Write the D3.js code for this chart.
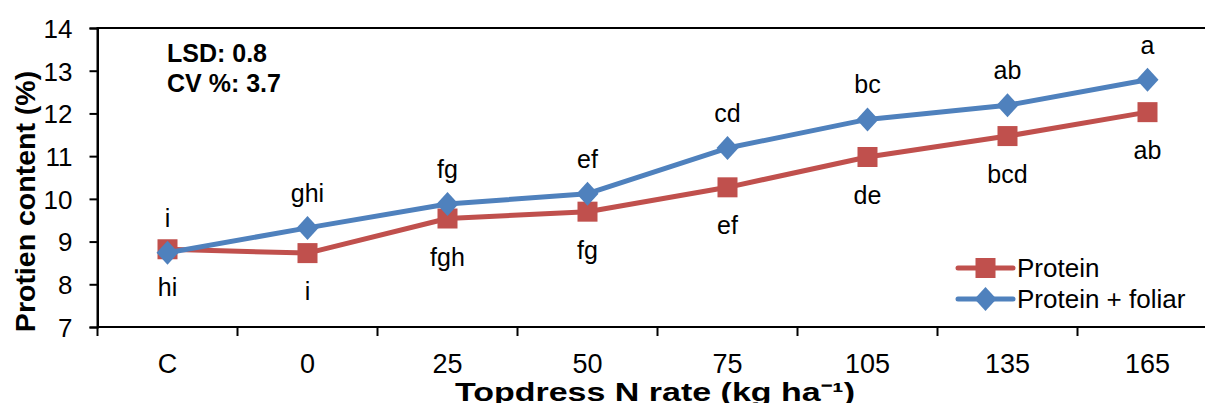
<!DOCTYPE html>
<html><head><meta charset="utf-8">
<script src="https://cdn.jsdelivr.net/npm/d3@7"></script>
<style>
html,body{margin:0;padding:0;background:#fff;}
svg{display:block;font-family:"Liberation Sans",Arial,sans-serif;}
</style></head>
<body>
<svg id="chart" width="1205" height="403"></svg>
<script>
const categories = ["C","0","25","50","75","105","135","165"];
const protein = [8.82,8.73,9.54,9.70,10.27,10.98,11.47,12.03];
const foliar = [8.74,9.32,9.88,10.12,11.19,11.86,12.19,12.79];
const proteinLetters = ["hi","i","fgh","fg","ef","de","bcd","ab"];
const foliarLetters = ["i","ghi","fg","ef","cd","bc","ab","a"];
const yTicks = [7,8,9,10,11,12,13,14];
const seriesNames = ["Protein","Protein + foliar"];
const statLines = ["LSD: 0.8","CV %: 3.7"];

const svg = d3.select("#chart");
const L = 97.5, T = 28, B = 327, R = 1217.5;
const x = d3.scaleBand().domain(categories).range([L,R]).padding(0);
const y = d3.scaleLinear().domain([7,14]).range([B,T]);
const red = "#C0504D", blue = "#4F81BD";

// plot frame
svg.append("rect").attr("x",L).attr("y",T).attr("width",R-L).attr("height",B-T)
  .attr("fill","none").attr("stroke","#000").attr("stroke-width",2);

// y axis
const ya = svg.append("g").attr("transform",`translate(${L},0)`)
  .call(d3.axisLeft(y).tickValues(yTicks).tickSize(8).tickPadding(17).tickFormat(d3.format("d")));
ya.select(".domain").attr("stroke","#000").attr("stroke-width",2);
ya.selectAll(".tick line").attr("stroke","#000").attr("stroke-width",2);
ya.selectAll(".tick text").attr("font-size",26).attr("fill","#000")
  .attr("font-family","Liberation Sans, Arial, sans-serif").attr("dy","0.36em");

// x axis: ticks at band boundaries
const xa = svg.append("g").attr("transform",`translate(0,${B})`);
xa.append("line").attr("x1",L).attr("x2",R).attr("stroke","#000").attr("stroke-width",2);
const bounds = categories.map(c => x(c)).concat([x(categories[categories.length-1])+x.bandwidth()]);
xa.selectAll("line.tk").data(bounds).join("line").attr("class","tk")
  .attr("x1",d=>d).attr("x2",d=>d).attr("y1",0).attr("y2",9)
  .attr("stroke","#000").attr("stroke-width",2);
xa.selectAll("text").data(categories).join("text")
  .attr("x",d=>x(d)+x.bandwidth()/2).attr("y",46)
  .attr("text-anchor","middle").attr("font-size",27).text(d=>d);

// axis titles
svg.append("text").attr("transform","translate(35,201.5) rotate(-90)")
  .attr("text-anchor","middle").attr("font-size",28.5).attr("font-weight","bold")
  .text("Protien content (%)");
svg.append("text").attr("x",655).attr("y",401)
  .attr("text-anchor","middle").attr("font-size",26).attr("font-weight","bold")
  .attr("textLength",400).attr("lengthAdjust","spacingAndGlyphs")
  .text("Topdress N rate (kg ha\u207B\u00B9)");

// stats
svg.selectAll("text.stat").data(statLines).join("text").attr("class","stat")
  .attr("x",167).attr("y",(d,i)=>62+i*30)
  .attr("font-size",25).attr("font-weight","bold").text(d=>d);

const cx = (d,i) => x(categories[i]) + x.bandwidth()/2;
const line = d3.line().x((d,i)=>cx(d,i)).y(d=>y(d));

// protein series
svg.append("path").datum(protein).attr("d",line).attr("fill","none")
  .attr("stroke",red).attr("stroke-width",5).attr("stroke-linejoin","round");
svg.selectAll("rect.pm").data(protein).join("rect").attr("class","pm")
  .attr("x",(d,i)=>cx(d,i)-10).attr("y",d=>y(d)-10).attr("width",20).attr("height",20)
  .attr("fill",red);
// foliar series
svg.append("path").datum(foliar).attr("d",line).attr("fill","none")
  .attr("stroke",blue).attr("stroke-width",5).attr("stroke-linejoin","round");
const diamond = "M0,-12L11,0L0,12L-11,0Z";
svg.selectAll("path.fm").data(foliar).join("path").attr("class","fm")
  .attr("transform",(d,i)=>`translate(${cx(d,i)},${y(d)})`).attr("d",diamond).attr("fill",blue);

// letters
svg.selectAll("text.fl").data(foliar).join("text").attr("class","fl")
  .attr("x",(d,i)=>cx(d,i)).attr("y",d=>y(d)-26).attr("text-anchor","middle")
  .attr("font-size",25).text((d,i)=>foliarLetters[i]);
svg.selectAll("text.pl").data(protein).join("text").attr("class","pl")
  .attr("x",(d,i)=>cx(d,i)).attr("y",d=>y(d)+47).attr("text-anchor","middle")
  .attr("font-size",25).text((d,i)=>proteinLetters[i]);

// legend
const lg = svg.append("g");
const legY = [268,299];
seriesNames.forEach((n,i)=>{
  const col = i===0?red:blue;
  lg.append("line").attr("x1",958).attr("x2",1013).attr("y1",legY[i]).attr("y2",legY[i])
    .attr("stroke",col).attr("stroke-width",5).attr("stroke-linecap","round");
  if(i===0){
    lg.append("rect").attr("x",975.5).attr("y",legY[i]-10).attr("width",20).attr("height",20).attr("fill",col);
  } else {
    lg.append("path").attr("transform",`translate(985.5,${legY[i]})`).attr("d",diamond).attr("fill",col);
  }
  lg.append("text").attr("x",1017).attr("y",legY[i]+9).attr("font-size",26).text(n);
});
</script>
</body></html>
